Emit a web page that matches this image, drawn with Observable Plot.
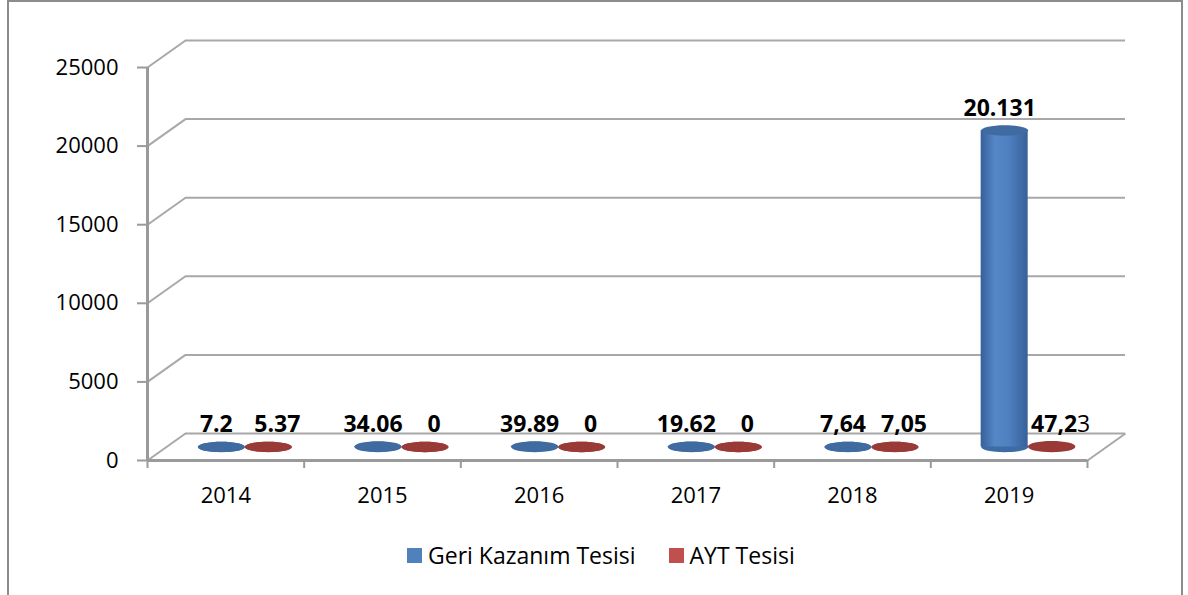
<!DOCTYPE html>
<html><head><meta charset="utf-8">
<script src="https://cdn.jsdelivr.net/npm/d3@7"></script>
<script src="https://cdn.jsdelivr.net/npm/@observablehq/plot@0.6"></script>
<style>
body{margin:0;background:#fff;font-family:"Open Sans",sans-serif;}
#wrap{position:relative;width:1188px;height:595px;overflow:hidden;}
#frame{position:absolute;left:7px;top:0;width:1176px;height:700px;border:2px solid #8c8c8c;box-sizing:border-box;pointer-events:none;}
#legend{position:absolute;left:407px;top:539px;display:flex;align-items:center;font-size:23px;color:#000;white-space:nowrap;}
#legend .sw{width:15px;height:15px;display:inline-block;margin-right:6px;}
#legend .item{display:flex;align-items:center;margin-right:33px;}
</style></head>
<body><div id="wrap"><div id="chart"></div>
<div id="legend"></div>
<div id="frame"></div></div>
<script>
const years = ["2014","2015","2016","2017","2018","2019"];
const seriesNames = ["Geri Kazanım Tesisi","AYT Tesisi"];
const geri = [7.2, 34.06, 39.89, 19.62, 7.64, 20131];
const ayt = [5.37, 0, 0, 0, 7.05, 47.23];
const geriLabels = ["7.2","34.06","39.89","19.62","7,64","20.131"];
const aytLabels = ["5.37","0","0","0","7,05","47,23"];
const yTicks = [0, 5000, 10000, 15000, 20000, 25000];
const legendColors = ["#4f81bd","#c0504d"];

const W = 1188, H = 530;
const ml = 147, mr = 101, mt = 67, mb = 70;
const pxX = years.length / (W - ml - mr);
const pxY = 25000 / (H - mt - mb);
const DX = 38, DY = -27;

const rows = [];
years.forEach((y, i) => {
  rows.push({i, s: 0, v: geri[i], label: geriLabels[i]});
  rows.push({i, s: 1, v: ayt[i], label: aytLabels[i]});
});
const ellipse = {
  draw(ctx, size) {
    const rx = Math.sqrt(size / Math.PI), ry = rx * 0.22, k = 0.5523;
    ctx.moveTo(rx, 0);
    ctx.bezierCurveTo(rx, ry * k, rx * k, ry, 0, ry);
    ctx.bezierCurveTo(-rx * k, ry, -rx, ry * k, -rx, 0);
    ctx.bezierCurveTo(-rx, -ry * k, -rx * k, -ry, 0, -ry);
    ctx.bezierCurveTo(rx * k, -ry, rx, -ry * k, rx, 0);
    ctx.closePath();
  }
};
const bodyFill = ["url(#gBlue)", "url(#gRed)"];
const endFill = ["#3d6ba3", "#9a3a37"];
const topFill = ["#3f6ba0", "#9a3a37"];
const nudge = [-5, 9];
const cx = d => d.i + 0.5 + (d.s === 0 ? -0.15 : 0.15);
const gridC = "#a8a8a8", axisC = "#9a9a9a";

const cylMarks = [], labelMarks = [];
[0, 1].forEach(s => {
  const data = rows.filter(d => d.s === s);
  cylMarks.push(
    Plot.dot(data, {x: cx, y: 0, r: 23.5, symbol: ellipse, fill: endFill[s], stroke: "none", dx: DX/2, dy: DY/2}),
    Plot.rectY(data, {x1: d => cx(d) - 0.15, x2: d => cx(d) + 0.15, y1: 0, y2: "v", fill: bodyFill[s], dx: DX/2, dy: DY/2}),
    Plot.dot(data, {x: cx, y: "v", r: 23.5, symbol: ellipse, fill: topFill[s], stroke: "none", dx: DX/2, dy: DY/2})
  );
  labelMarks.push(
    Plot.text(data, {x: cx, y: "v", text: "label", dx: DX/2 + nudge[s], dy: DY/2 - 22,
      fontWeight: "bold", fontSize: 23, fill: "#000"})
  );
});

const chart = Plot.plot({
  width: W, height: H,
  marginLeft: ml, marginRight: mr, marginTop: mt, marginBottom: mb,
  style: {fontFamily: "Open Sans", fontSize: "22px", color: "#000", background: "transparent", overflow: "visible"},
  x: {type: "linear", domain: [0, years.length], ticks: years.map((y, i) => i + 0.5),
      tickFormat: d => years[Math.floor(d)], tickSize: 0, tickPadding: 27, label: null},
  y: {domain: [0, 25000], ticks: yTicks, tickFormat: d3.format("d"), tickSize: 0, tickPadding: 29, label: null},
  marks: [
    Plot.ruleY(yTicks, {dx: DX, dy: DY, stroke: gridC, strokeWidth: 2}),
    Plot.link(yTicks, {x1: 0, y1: d => d, x2: DX * pxX, y2: d => d - DY * pxY, stroke: gridC, strokeWidth: 2}),
    Plot.link([0], {x1: years.length, y1: 0, x2: years.length + DX * pxX, y2: -DY * pxY, stroke: gridC, strokeWidth: 2}),
    Plot.ruleY(yTicks, {x1: -10 * pxX, x2: 0, stroke: axisC, strokeWidth: 2}),
    Plot.ruleX(d3.range(years.length + 1), {y1: 0, y2: -8 * pxY, stroke: axisC, strokeWidth: 2}),
    Plot.ruleX([0], {y1: 0, y2: 25000, stroke: axisC, strokeWidth: 3}),
    Plot.ruleY([0], {x1: 0, x2: years.length, stroke: axisC, strokeWidth: 3}),
    ...cylMarks,
    ...labelMarks
  ]
});
document.getElementById("chart").appendChild(chart);

const svg = d3.select(chart.tagName.toLowerCase() === "svg" ? chart : chart.querySelector("svg"));
const defs = svg.insert("defs", ":first-child");
function grad(id, stops) {
  const g = defs.append("linearGradient").attr("id", id).attr("x1", 0).attr("x2", 1).attr("y1", 0).attr("y2", 0);
  stops.forEach(([o, c]) => g.append("stop").attr("offset", o).attr("stop-color", c));
}
grad("gBlue", [[0, "#36609a"], [0.3, "#5586c6"], [0.6, "#4f80c0"], [1, "#36609a"]]);
grad("gRed", [[0, "#8c3431"], [0.3, "#c0504d"], [0.6, "#b04946"], [1, "#8c3431"]]);

svg.selectAll("text").each(function() {
  if (this.textContent === "47,23" && this.children.length === 0)
    this.innerHTML = '47,2<tspan font-weight="normal">3</tspan>';
});

const lg = document.getElementById("legend");
seriesNames.forEach((n, k) => {
  const it = document.createElement("div"); it.className = "item";
  const sw = document.createElement("span"); sw.className = "sw"; sw.style.background = legendColors[k];
  const tx = document.createElement("span"); tx.textContent = n;
  it.appendChild(sw); it.appendChild(tx); lg.appendChild(it);
});
</script></body></html>
